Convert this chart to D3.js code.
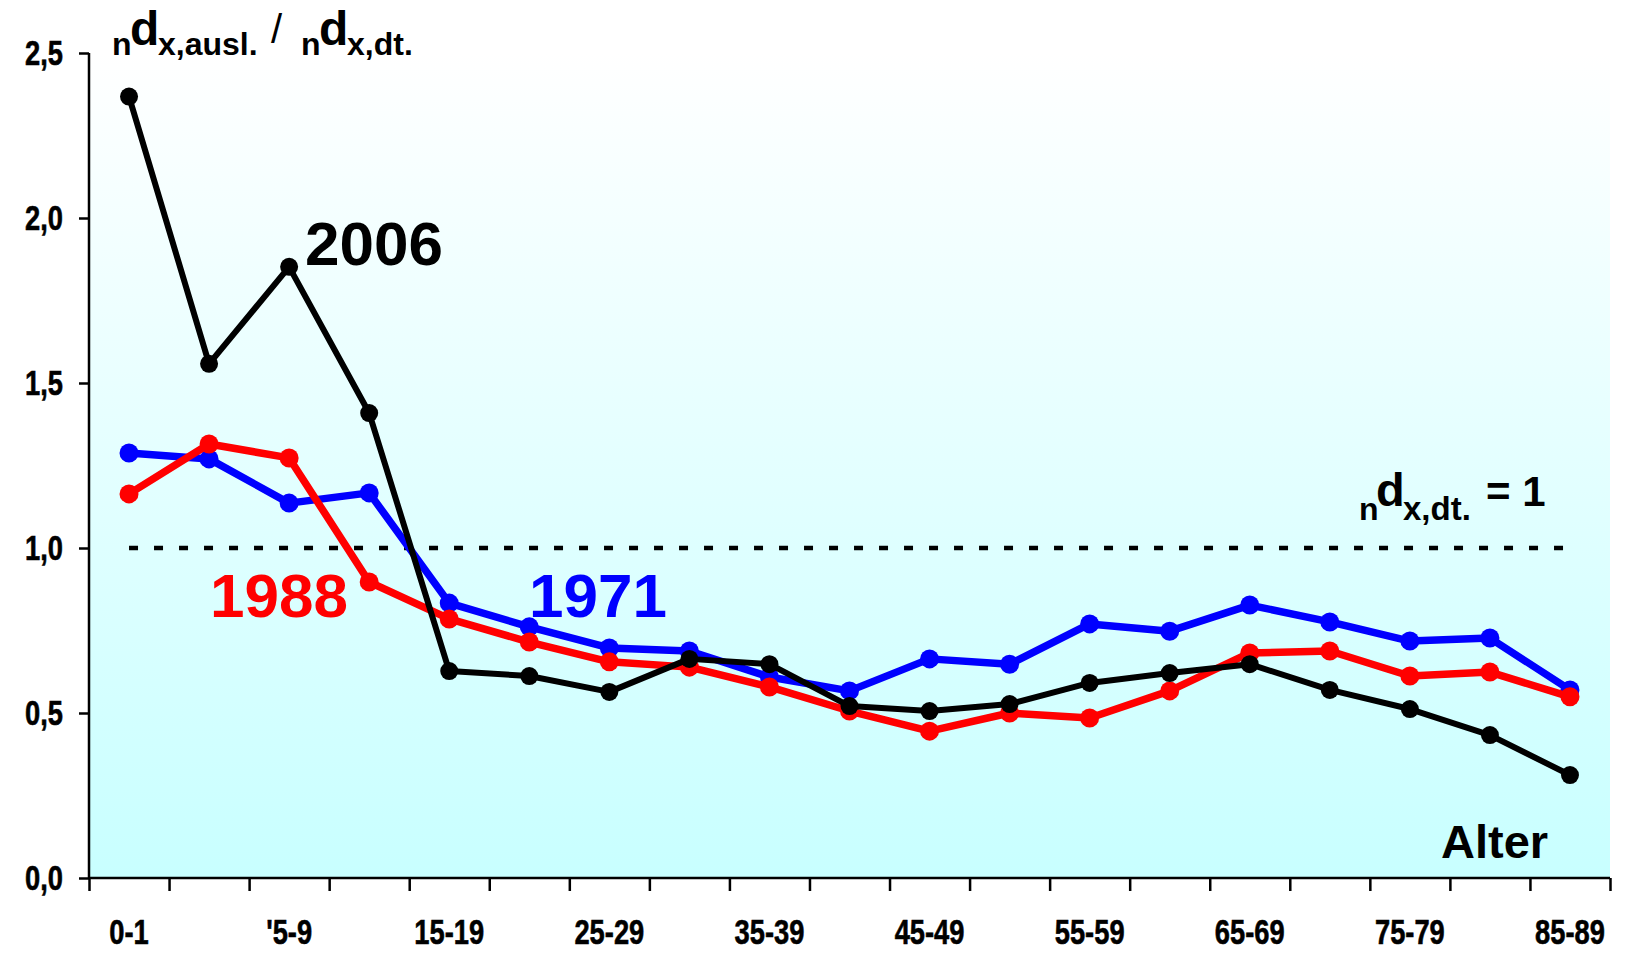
<!DOCTYPE html>
<html>
<head>
<meta charset="utf-8">
<script src="https://cdn.jsdelivr.net/npm/d3@7"></script>
<style>
body { margin: 0; background: #fff; }
text { font-family: "Liberation Sans", Arial, sans-serif; font-weight: bold; }
</style>
</head>
<body>
<script>
var categories = ["0-1","1-4","'5-9","10-14","15-19","20-24","25-29","30-34","35-39","40-44",
                  "45-49","50-54","55-59","60-64","65-69","70-74","75-79","80-84","85-89"];
var tickLabels = ["0-1","'5-9","15-19","25-29","35-39","45-49","55-59","65-69","75-79","85-89"];
var yTicks = [0, 0.5, 1, 1.5, 2, 2.5];

var v1971 = [1.288,1.27,1.136,1.167,0.833,0.761,0.697,0.688,0.609,0.567,0.664,0.648,0.77,0.748,0.827,0.776,0.718,0.727,0.57];
var v1988 = [1.164,1.315,1.273,0.897,0.785,0.715,0.655,0.639,0.579,0.506,0.445,0.5,0.485,0.567,0.682,0.688,0.612,0.624,0.549];
var v2006 = [2.368,1.558,1.852,1.409,0.627,0.612,0.564,0.664,0.648,0.521,0.506,0.527,0.591,0.621,0.648,0.57,0.512,0.433,0.312];
var refValue = 1;

var width = 1629, height = 954;
var mLeft = 89, mRight = 1610, mTop = 53, mBottom = 878;
var narrow = 0.78;

var svg = d3.select("body").append("svg").attr("width",width).attr("height",height);

var x = d3.scaleBand().domain(categories).range([mLeft,mRight]).padding(0);
var xEdge = d3.scaleLinear().domain([0,categories.length]).range([mLeft,mRight]);
var y = d3.scaleLinear().domain([0,2.5]).range([mBottom,mTop]);
function cx(d,i){ return x(categories[i]) + x.bandwidth()/2; }

// background gradient
var grad = svg.append("defs").append("linearGradient")
    .attr("id","bg").attr("x1","0").attr("y1","0").attr("x2","0").attr("y2","1");
grad.append("stop").attr("offset","0").attr("stop-color","#ffffff");
grad.append("stop").attr("offset","1").attr("stop-color","#c8ffff");

svg.append("rect")
    .attr("x",mLeft).attr("y",mTop)
    .attr("width",mRight-mLeft).attr("height",mBottom-mTop)
    .attr("fill","url(#bg)");

// axes
var yAxis = svg.append("g")
    .attr("transform","translate("+mLeft+",0)")
    .call(d3.axisLeft(y).tickValues(yTicks).tickSize(10).tickPadding(17)
        .tickFormat(function(d){ return d3.format(".1f")(d).replace(".",","); }));
yAxis.selectAll("text")
    .attr("font-size","35").attr("fill","#000")
    .attr("stroke","#000").attr("stroke-width","0.6")
    .attr("x",-26/narrow)
    .attr("transform","scale("+narrow+",1)");
yAxis.selectAll("line, path").attr("stroke","#000").attr("stroke-width","2.5");
yAxis.select("path").attr("d","M0,"+mTop+"V"+mBottom);

var xTicks = svg.append("g")
    .attr("transform","translate(0,"+mBottom+")")
    .call(d3.axisBottom(xEdge).tickValues(d3.range(categories.length+1)).tickSize(13).tickFormat(""));
xTicks.selectAll("line, path").attr("stroke","#000").attr("stroke-width","2.5");
xTicks.select("path").attr("d","M"+mLeft+",0H"+mRight);

var xLabels = svg.append("g")
    .attr("transform","translate(0,"+mBottom+")")
    .call(d3.axisBottom(x).tickValues(tickLabels).tickSize(0).tickPadding(41));
xLabels.select("path").remove();
xLabels.selectAll("text")
    .attr("font-size","35").attr("fill","#000")
    .attr("stroke","#000").attr("stroke-width","0.6")
    .attr("transform","scale("+narrow+",1)");

// reference line at 1
svg.append("line")
    .attr("x1",cx(null,0)).attr("x2",cx(null,categories.length-1))
    .attr("y1",y(refValue)).attr("y2",y(refValue))
    .attr("stroke","#000").attr("stroke-width","4.5")
    .attr("stroke-dasharray","9,16");

// series
var series = [
    {values:v1971, color:"#0000ff", w:7.5, r:9.5},
    {values:v1988, color:"#ff0000", w:7.5, r:9.5},
    {values:v2006, color:"#000000", w:6, r:9}
];

var line = d3.line().x(cx).y(function(d){ return y(d); });

series.forEach(function(s){
    svg.append("path")
        .attr("d",line(s.values))
        .attr("fill","none")
        .attr("stroke",s.color)
        .attr("stroke-width",s.w)
        .attr("stroke-linejoin","round");
    svg.selectAll("circle.c"+s.color.slice(1))
        .data(s.values)
        .enter().append("circle")
            .attr("class","c"+s.color.slice(1))
            .attr("cx",cx)
            .attr("cy",function(d){ return y(d); })
            .attr("r",s.r)
            .attr("fill",s.color);
});

// series labels
svg.append("text").attr("x",305).attr("y",265).attr("font-size","62").attr("fill","#000").text("2006");
svg.append("text").attr("x",210).attr("y",617).attr("font-size","62").attr("fill","#ff0000").text("1988");
svg.append("text").attr("x",529).attr("y",617).attr("font-size","62").attr("fill","#0000ff").text("1971");
svg.append("text").attr("x",1441).attr("y",858).attr("font-size","47").attr("fill","#000").text("Alter");

// y title
var title = svg.append("text").attr("fill","#000");
title.append("tspan").attr("x",112).attr("y",55).attr("font-size","32").text("n");
title.append("tspan").attr("x",130).attr("y",45).attr("font-size","48").text("d");
title.append("tspan").attr("x",158).attr("y",55).attr("font-size","32").text("x,ausl.");
title.append("tspan").attr("x",271).attr("y",43).attr("font-size","40").attr("font-weight","normal").text("/");
title.append("tspan").attr("x",301).attr("y",55).attr("font-size","32").text("n");
title.append("tspan").attr("x",319).attr("y",45).attr("font-size","48").text("d");
title.append("tspan").attr("x",347).attr("y",55).attr("font-size","32").text("x,dt.");

// reference label
var ref = svg.append("text").attr("fill","#000");
ref.append("tspan").attr("x",1359).attr("y",520).attr("font-size","32").text("n");
ref.append("tspan").attr("x",1376).attr("y",506).attr("font-size","47").text("d");
ref.append("tspan").attr("x",1403).attr("y",520).attr("font-size","33").text("x,dt.");
ref.append("tspan").attr("x",1486).attr("y",506).attr("font-size","42").text("= 1");
</script>
</body>
</html>
